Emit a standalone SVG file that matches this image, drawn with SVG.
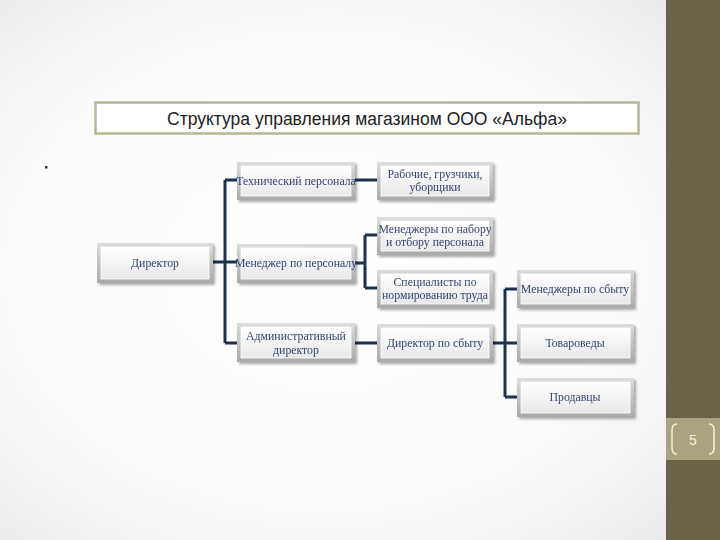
<svg xmlns="http://www.w3.org/2000/svg" width="720" height="540" viewBox="0 0 720 540">
<defs>
<radialGradient id="bg" cx="0.45" cy="0.5" r="0.75">
<stop offset="0" stop-color="#ffffff"/>
<stop offset="0.6" stop-color="#fbfbfb"/>
<stop offset="1" stop-color="#e6e6e6"/>
</radialGradient>
<linearGradient id="outer" x1="0" y1="0" x2="0" y2="1">
<stop offset="0" stop-color="#dcdcdc"/>
<stop offset="1" stop-color="#a9a9a9"/>
</linearGradient>
<linearGradient id="inner" x1="0" y1="0" x2="0" y2="1">
<stop offset="0" stop-color="#ffffff"/>
<stop offset="1" stop-color="#e8e8e8"/>
</linearGradient>
<filter id="sh" x="-10%" y="-20%" width="130%" height="150%">
<feGaussianBlur in="SourceAlpha" stdDeviation="1.5"/>
<feOffset dx="1.5" dy="2" result="b"/>
<feComponentTransfer><feFuncA type="linear" slope="0.35"/></feComponentTransfer>
<feMerge><feMergeNode/><feMergeNode in="SourceGraphic"/></feMerge>
</filter>
</defs>
<style>
.o{fill:url(#outer);}
.i{fill:url(#inner);stroke:#ffffff;stroke-width:0.8;}
.t{font-family:"Liberation Serif","Times New Roman",serif;font-size:11.8px;fill:#364670;text-anchor:middle;}
.c{fill:none;stroke:#1b3152;stroke-width:3;}
</style>
<rect x="0" y="0" width="720" height="540" fill="url(#bg)"/>
<rect x="666" y="0" width="54" height="540" fill="#6b6249"/>
<rect x="666" y="418" width="54" height="42" fill="#a9a47f"/>
<path d="M677,424 Q672,424 672,430 L672,448 Q672,454 677,454" fill="none" stroke="#f4f1e0" stroke-width="1.5"/>
<path d="M709,424 Q714,424 714,430 L714,448 Q714,454 709,454" fill="none" stroke="#f4f1e0" stroke-width="1.5"/>
<text x="693" y="445" font-family="Liberation Sans, Arial, sans-serif" font-size="14" fill="#f4f1e0" text-anchor="middle">5</text>

<g id="title">
<rect x="95.5" y="102.5" width="543" height="31" fill="#ffffff" stroke="#b7b697" stroke-width="2.5"/>
<text x="367" y="124.5" font-family="Liberation Sans, Arial, sans-serif" font-size="17.5" fill="#222222" text-anchor="middle">Структура управления магазином ООО «Альфа»</text>
</g>
<rect x="45" y="166" width="2.5" height="2.5" fill="#333333"/>

<g id="connectors">
<path class="c" d="M213,262 H225 M225,180 V343 M225,180 H237 M225,262 H237 M225,343 H237"/>
<path class="c" d="M355,180 H377"/>
<path class="c" d="M355,263 H365 M365,235 V288 M365,235 H377 M365,288 H377"/>
<path class="c" d="M355,343 H377"/>
<path class="c" d="M493,343 H517 M505,289 V397 M505,289 H517 M505,397 H517"/>
</g>

<g id="n-director" filter="url(#sh)">
<rect class="o" x="97" y="243" width="116" height="40"/>
<rect class="i" x="101" y="247" width="108" height="32"/>
<text class="t" x="155" y="267">Директор</text>
</g>
<g id="n-tech" filter="url(#sh)">
<rect class="o" x="237" y="162" width="118" height="38"/>
<rect class="i" x="241" y="166" width="110" height="30"/>
<text class="t" x="296" y="185">Технический персонала</text>
</g>
<g id="n-hr" filter="url(#sh)">
<rect class="o" x="237" y="244" width="118" height="39"/>
<rect class="i" x="241" y="248" width="110" height="31"/>
<text class="t" x="296" y="267">Менеджер по персоналу</text>
</g>
<g id="n-admin" filter="url(#sh)">
<rect class="o" x="237" y="323" width="118" height="39"/>
<rect class="i" x="241" y="327" width="110" height="31"/>
<text class="t" x="296" y="340">Административный</text>
<text class="t" x="296" y="354">директор</text>
</g>
<g id="n-workers" filter="url(#sh)">
<rect class="o" x="377" y="162" width="116" height="38"/>
<rect class="i" x="381" y="166" width="108" height="30"/>
<text class="t" x="435" y="178">Рабочие, грузчики,</text>
<text class="t" x="435" y="191">уборщики</text>
</g>
<g id="n-recruit" filter="url(#sh)">
<rect class="o" x="377" y="217" width="116" height="38"/>
<rect class="i" x="381" y="221" width="108" height="30"/>
<text class="t" x="435" y="233">Менеджеры по набору</text>
<text class="t" x="435" y="246">и отбору персонала</text>
</g>
<g id="n-norm" filter="url(#sh)">
<rect class="o" x="377" y="270" width="116" height="38"/>
<rect class="i" x="381" y="274" width="108" height="30"/>
<text class="t" x="435" y="286">Специалисты по</text>
<text class="t" x="435" y="299">нормированию труда</text>
</g>
<g id="n-sales-dir" filter="url(#sh)">
<rect class="o" x="377" y="324" width="116" height="38"/>
<rect class="i" x="381" y="328" width="108" height="30"/>
<text class="t" x="435" y="347">Директор по сбыту</text>
</g>
<g id="n-sales-mgr" filter="url(#sh)">
<rect class="o" x="517" y="270" width="117" height="38"/>
<rect class="i" x="521" y="274" width="109" height="30"/>
<text class="t" x="575" y="293">Менеджеры по сбыту</text>
</g>
<g id="n-merch" filter="url(#sh)">
<rect class="o" x="517" y="324" width="117" height="38"/>
<rect class="i" x="521" y="328" width="109" height="30"/>
<text class="t" x="575" y="347">Товароведы</text>
</g>
<g id="n-sellers" filter="url(#sh)">
<rect class="o" x="517" y="378" width="117" height="39"/>
<rect class="i" x="521" y="382" width="109" height="31"/>
<text class="t" x="575" y="401">Продавцы</text>
</g>
</svg>
